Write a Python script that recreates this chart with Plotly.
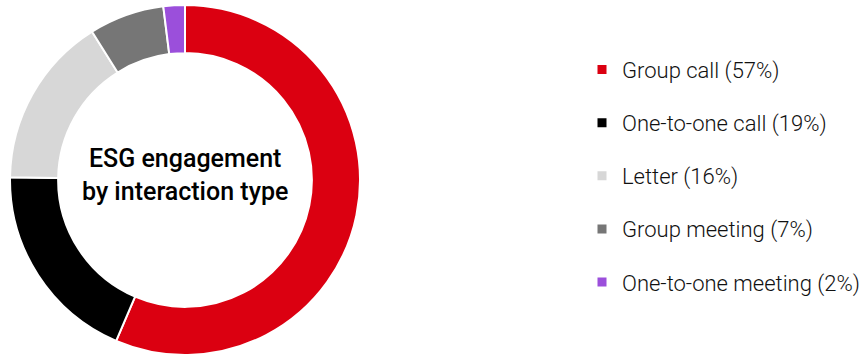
import plotly.graph_objects as go

categories = ["Group call", "One-to-one call", "Letter", "Group meeting", "One-to-one meeting"]
values = [57, 19, 16, 7, 2]
colors = ["#DB0011", "#000000", "#D7D7D7", "#767676", "#9B4FDB"]
center_title = "ESG engagement<br>by interaction type"

W, H = 868, 358
fig = go.Figure()
fig.add_trace(go.Pie(
    labels=categories, values=values, sort=False, direction="clockwise", rotation=0,
    hole=0.725, marker=dict(colors=colors, line=dict(color="white", width=2)),
    textinfo="none", hoverinfo="label+percent", showlegend=False,
    domain=dict(x=[10 / W, 360 / W], y=[3 / H, 353 / H]),
))
for i, (c, v, col) in enumerate(zip(categories, values, colors)):
    fig.add_trace(go.Scatter(
        x=[None], y=[None], mode="markers", name=f"{c} ({v}%)",
        marker=dict(symbol="square", size=9, color=col),
        legendgroup=f"g{i}", showlegend=True,
    ))

fig.add_annotation(text=center_title, x=185 / W, y=0.51, xref="paper", yref="paper",
                   xanchor="center", yanchor="middle",
                   showarrow=False, font=dict(family="Roboto", size=25, color="#000", weight=500),
                   align="center")

fig.update_layout(
    width=W, height=H, margin=dict(l=0, r=0, t=0, b=0),
    paper_bgcolor="white", plot_bgcolor="white",
    xaxis=dict(visible=False), yaxis=dict(visible=False),
    legend=dict(x=582 / W, y=0.509, xanchor="left", yanchor="middle",
                font=dict(family="Roboto", size=22, color="#111", weight=300),
                tracegroupgap=21.5, itemwidth=30, bgcolor="rgba(0,0,0,0)"),
)
fig.write_html("out.html", config={"displayModeBar": False})
with open("out.html", encoding="utf-8") as f:
    html = f.read()
html = html.replace("<body>", '<body style="margin:0;padding:0;overflow:hidden">', 1)
with open("out.html", "w", encoding="utf-8") as f:
    f.write(html)
